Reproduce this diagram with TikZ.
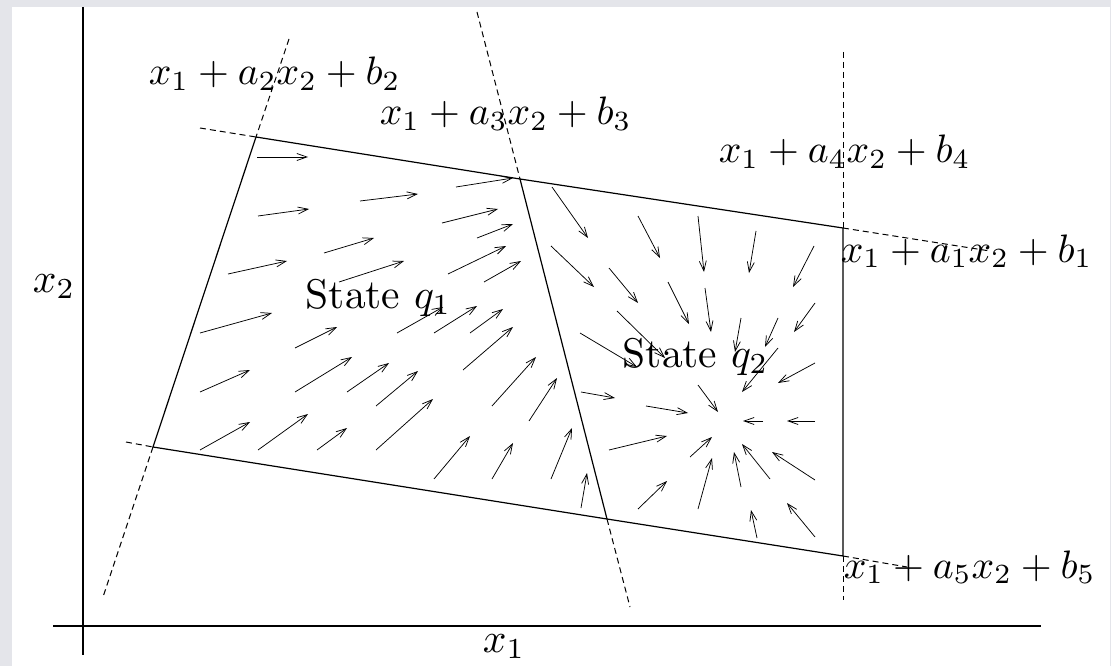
\documentclass[tikz,border=0pt]{standalone}
\usetikzlibrary{arrows.meta}
\definecolor{framegray}{HTML}{E4E5EA}
\begin{document}
\begin{tikzpicture}[x=1pt,y=-1pt,
  bnd/.style={line width=1.2pt},
  ext/.style={line width=1pt, dash pattern=on 6pt off 4pt},
  axis/.style={line width=1.2pt},
  vec/.style={line width=0.75pt, -{Straight Barb[length=10pt,width=7pt]}},
  lbl/.style={scale=4.15, anchor=base west, inner sep=0pt},
  eqn/.style={scale=3.97, anchor=base west, inner sep=0pt}]
\useasboundingbox (0,0) rectangle (1111,666);
\fill[framegray] (0,0) rectangle (1111,666);
\fill[white] (12,7) rectangle (1110,666);
% axes
\coordinate (ytop) at (83,7);
\coordinate (ybot) at (83,655);
\coordinate (xl) at (53,626);
\coordinate (xr) at (1041,626);
\draw[axis] (ytop) -- (ybot);
\draw[axis] (xl) -- (xr);
% corners
\coordinate (TL) at (256,137);
\coordinate (MT) at (520,179);
\coordinate (TR) at (843,228);
\coordinate (BR) at (843,556);
\coordinate (MB) at (607,519);
\coordinate (BL) at (153,447);
% dashed ends
\coordinate (e1a) at (200,128);
\coordinate (e1b) at (990,251);
\coordinate (e2a) at (289,39);
\coordinate (e2b) at (103,597);
\coordinate (e3a) at (477,12);
\coordinate (e3b) at (630,607);
\coordinate (e4a) at (843,52);
\coordinate (e4b) at (843,600);
\coordinate (e5a) at (126,442);
\coordinate (e5b) at (907,567);
% boundaries
\draw[bnd] (TL) -- (MT) -- (TR) -- (BR) -- (MB) -- (BL) -- cycle;
\draw[bnd] (MT) -- (MB);
\draw[ext] (e1a) -- (TL);
\draw[ext] (TR) -- (e1b);
\draw[ext] (e2a) -- (TL);
\draw[ext] (BL) -- (e2b);
\draw[ext] (e3a) -- (MT);
\draw[ext] (MB) -- (e3b);
\draw[ext] (e4a) -- (TR);
\draw[ext] (BR) -- (e4b);
\draw[ext] (e5a) -- (BL);
\draw[ext] (BR) -- (e5b);
% vector field, state q1
\foreach \a/\b/\c/\d in {
  257/157/308/157, 258/216/309/209, 360/201/418/194, 456/187/513/178,
  442/223/498/209, 477/238/513/224, 324/253/374/238, 228/274/287/261,
  339/282/404/261, 448/274/506/246, 484/282/521/261,
  200/333/272/313, 295/348/337/327, 397/333/443/307, 434/333/477/306,
  470/333/503/309, 463/370/513/327,
  200/392/250/370, 295/392/352/357, 347/392/389/363, 376/406/418/371,
  492/406/536/357, 529/421/557/378,
  200/450/250/422, 258/450/308/414, 317/450/347/428, 376/450/433/399,
  434/479/470/436, 492/479/513/443, 551/479/572/428, 581/508/587/473}
  \draw[vec] (\a,\b) -- (\c,\d);
% vector field, state q2
\foreach \a/\b/\c/\d in {
  552/187/588/238, 638/216/660/258, 698/216/704/272, 756/231/749/273,
  814/246/793/287, 551/246/594/287, 609/268/638/303, 668/282/689/324,
  705/288/711/332, 815/303/794/332, 741/318/735/352, 778/318/765/347,
  617/311/665/358, 580/333/637/367, 778/348/742/392, 815/363/778/383,
  698/385/718/412, 581/392/615/398, 646/406/688/413, 763/421/743/421,
  815/421/787/421, 609/450/667/436, 690/457/712/437, 770/479/742/444,
  815/480/772/452, 741/487/734/452, 638/509/667/481, 698/509/712/458,
  757/538/751/510, 815/537/787/503}
  \draw[vec] (\a,\b) -- (\c,\d);
% labels
\node[eqn] (l2) at (148,85) {$x_1+a_2x_2+b_2$};
\node[eqn] (l3) at (379,125) {$x_1+a_3x_2+b_3$};
\node[eqn] (l4) at (718,163) {$x_1+a_4x_2+b_4$};
\node[eqn] (l1) at (840,262) {$x_1+a_1x_2+b_1$};
\node[eqn] (l5) at (843,578) {$x_1+a_5x_2+b_5$};
\node[lbl] (lx2) at (32,292) {$x_2$};
\node[lbl] (lx1) at (482,652) {$x_1$};
\node[lbl] (q1) at (305,308) {State $q_1$};
\node[lbl] (q2) at (622,367) {State $q_2$};
\end{tikzpicture}
\end{document}
